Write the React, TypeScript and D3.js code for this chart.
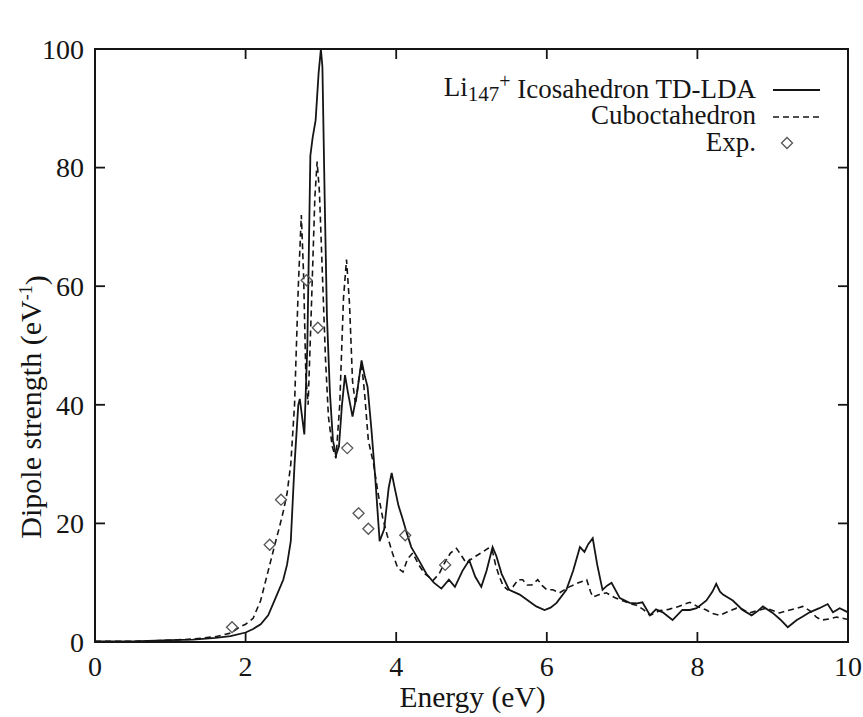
import React from "react";
import * as d3 from "d3";

const icoE = [0, 0.5, 1.0, 1.3, 1.6, 1.8, 2.0, 2.1, 2.2, 2.3, 2.4, 2.5, 2.55, 2.6, 2.65, 2.7, 2.72, 2.75, 2.78, 2.82, 2.86, 2.89, 2.93, 2.97, 3.0, 3.02, 3.05, 3.08, 3.12, 3.16, 3.2, 3.24, 3.28, 3.32, 3.36, 3.42, 3.48, 3.54, 3.58, 3.62, 3.67, 3.72, 3.78, 3.84, 3.9, 3.94, 3.98, 4.03, 4.08, 4.14, 4.2, 4.3, 4.4, 4.5, 4.6, 4.7, 4.78, 4.88, 4.97, 5.05, 5.13, 5.2, 5.28, 5.33, 5.4, 5.5, 5.64, 5.75, 5.86, 5.97, 6.05, 6.13, 6.26, 6.35, 6.44, 6.5, 6.55, 6.61, 6.67, 6.74, 6.8, 6.86, 6.97, 7.1, 7.2, 7.27, 7.37, 7.45, 7.54, 7.67, 7.8, 7.9, 7.99, 8.12, 8.2, 8.25, 8.3, 8.34, 8.47, 8.6, 8.72, 8.8, 8.87, 9.0, 9.1, 9.2, 9.32, 9.4, 9.49, 9.62, 9.73, 9.8, 9.89, 10];
const icoV = [0.1, 0.1, 0.3, 0.4, 0.7, 1.0, 1.6, 2.2, 3.0, 4.5, 7.5, 10.5, 13, 17, 30, 40, 41, 38, 35, 50, 82, 85, 88, 96, 100, 97, 75, 55, 42, 34, 31.5, 33, 40, 45, 42, 38, 42, 47.5, 45, 43, 36, 28, 17, 19, 26, 28.5, 26, 23, 21, 18.4, 16, 13.8, 11.5, 10, 9, 10.5, 9.3, 12, 13.8, 11, 9.3, 12, 16, 14.5, 11.5, 8.8, 8, 7, 6, 5.4, 5.8, 6.6, 8.8, 12, 16, 15.2, 16.5, 17.5, 13, 8.8, 9.5, 10, 7.4, 6.6, 6.5, 6.7, 4.5, 5.5, 5, 3.7, 5.4, 5.4, 5.7, 7, 8.5, 9.8, 8.5, 8, 7, 5.4, 4.5, 5.2, 6, 4.9, 3.8, 2.5, 3.7, 4.3, 5, 5.7, 6.4, 5, 5.7, 5];

const cubE = [0, 0.5, 1.0, 1.3, 1.6, 1.8, 1.92, 2.0, 2.1, 2.2, 2.3, 2.4, 2.45, 2.5, 2.55, 2.6, 2.65, 2.7, 2.74, 2.77, 2.8, 2.83, 2.87, 2.92, 2.95, 2.98, 3.02, 3.06, 3.1, 3.15, 3.2, 3.25, 3.3, 3.34, 3.38, 3.42, 3.46, 3.5, 3.54, 3.58, 3.63, 3.7, 3.76, 3.82, 3.88, 3.95, 4.02, 4.09, 4.15, 4.22, 4.3, 4.38, 4.49, 4.57, 4.65, 4.72, 4.8, 4.87, 4.93, 5.0, 5.06, 5.15, 5.22, 5.27, 5.32, 5.37, 5.42, 5.48, 5.55, 5.62, 5.68, 5.74, 5.8, 5.88, 5.94, 6.0, 6.08, 6.17, 6.3, 6.42, 6.53, 6.58, 6.61, 6.7, 6.79, 6.9, 7.0, 7.1, 7.19, 7.28, 7.37, 7.5, 7.62, 7.75, 7.9, 8.0, 8.12, 8.2, 8.3, 8.42, 8.52, 8.6, 8.69, 8.8, 8.92, 9.0, 9.09, 9.2, 9.32, 9.4, 9.5, 9.58, 9.65, 9.75, 9.85, 9.93, 10];
const cubV = [0.1, 0.1, 0.3, 0.5, 0.9, 1.5, 2.5, 3, 4, 7, 12, 17, 19.4, 22, 25, 30, 40, 60, 72, 62, 45, 40, 55, 75, 81, 76, 62, 48, 38, 33, 31, 40, 58, 64.5, 57, 44, 40, 44, 47, 42, 34, 30, 25, 21, 18, 15, 12.5, 11.8, 14, 15, 13, 11.5, 10.4, 11.5, 13.5, 15, 15.8, 14.5, 13.3, 14, 14.5, 15.2, 15.8, 15.8, 13, 11, 9.5, 8.8, 9.3, 10.5, 10.5, 9.6, 9.6, 10.5, 9.5, 8.8, 8.8, 8.3, 9.3, 10, 10.5, 8.5, 7.6, 8, 8.3, 7.5, 7, 6.5, 6.2, 5.5, 4.5, 5.3, 5.5, 6, 6.7, 6, 5.4, 4.8, 4.5, 5.2, 5.7, 5.5, 4.9, 5.3, 5.7, 5.3, 4.9, 5.3, 5.7, 6, 5.2, 4.2, 3.7, 3.9, 4.2, 4, 3.8];

const expE = [1.82, 2.32, 2.47, 2.81, 2.96, 3.35, 3.5, 3.63, 4.12, 4.65];
const expV = [2.5, 16.4, 24, 61, 53, 32.7, 21.7, 19.1, 18, 13];

const xTicks = [0, 2, 4, 6, 8, 10];
const yTicks = [0, 20, 40, 60, 80, 100];

const W = 863, H = 717;
const L = 95, R = 848, T = 49, B = 642;
const FONT = "'Liberation Serif', 'Times New Roman', serif";
const INK = "#151515";

export default function App() {
  const x = d3.scaleLinear().domain([0, 10]).range([L, R]);
  const y = d3.scaleLinear().domain([0, 100]).range([B, T]);
  const line = d3.line<[number, number]>().x(d => x(d[0])).y(d => y(d[1]));
  const ico = icoE.map((e, i) => [e, icoV[i]] as [number, number]);
  const cub = cubE.map((e, i) => [e, cubV[i]] as [number, number]);
  const diamond = (cx: number, cy: number, r = 5.5) =>
    `M${cx},${cy - r}L${cx + r},${cy}L${cx},${cy + r}L${cx - r},${cy}Z`;
  const tl = 10;
  return (
    <svg width={W} height={H} style={{ position: "absolute", left: 0, top: 0, background: "#fff" }}
      fontFamily={FONT}>
      <rect x={0} y={0} width={W} height={H} fill="#fff" />
      <defs>
        <clipPath id="pc"><rect x={L} y={T - 2} width={R - L} height={B - T + 2} /></clipPath>
      </defs>
      <g clipPath="url(#pc)">
        <path d={line(cub) || ""} fill="none" stroke={INK} strokeWidth={1.6} strokeDasharray="6,4" />
        <path d={line(ico) || ""} fill="none" stroke={INK} strokeWidth={1.8} />
      </g>
      {expE.map((e, i) => (
        <path key={i} d={diamond(x(e), y(expV[i]))} fill="none" stroke="#555" strokeWidth={1.3} />
      ))}
      <rect x={L} y={T} width={R - L} height={B - T} fill="none" stroke={INK} strokeWidth={2} />
      {xTicks.map(t => (
        <g key={"x" + t}>
          <line x1={x(t)} x2={x(t)} y1={B} y2={B - tl} stroke={INK} strokeWidth={1.8} />
          <line x1={x(t)} x2={x(t)} y1={T} y2={T + tl} stroke={INK} strokeWidth={1.8} />
          <text x={x(t)} y={B + 24} dy="0.35em" textAnchor="middle" fontSize={28} fill={INK}>{t}</text>
        </g>
      ))}
      {yTicks.map(t => (
        <g key={"y" + t}>
          <line x1={L} x2={L + tl} y1={y(t)} y2={y(t)} stroke={INK} strokeWidth={1.8} />
          <line x1={R} x2={R - tl} y1={y(t)} y2={y(t)} stroke={INK} strokeWidth={1.8} />
          <text x={84} y={y(t)} dy="0.35em" textAnchor="end" fontSize={28} fill={INK}>{t}</text>
        </g>
      ))}
      <text x={(L + R) / 2 + 1} y={697} dy="0.35em" textAnchor="middle" fontSize={29.5} fill={INK}>Energy (eV)</text>
      <text transform={`translate(30,407) rotate(-90)`} textAnchor="middle" dy="0.35em" fontSize={30} fill={INK}>
        Dipole strength (eV<tspan dy="-0.45em" fontSize={18}>-1</tspan><tspan dy="0.45em">)</tspan>
      </text>
      <text x={756} y={96} textAnchor="end" fontSize={27} fill={INK}>
        Li<tspan dy="0.22em" fontSize={21}>147</tspan><tspan dy="-0.65em" fontSize={20}>+</tspan><tspan dy="0.4em"> Icosahedron TD-LDA</tspan>
      </text>
      <line x1={773} x2={820} y1={90} y2={90} stroke={INK} strokeWidth={1.8} />
      <text x={756} y={124} textAnchor="end" fontSize={27} fill={INK}>Cuboctahedron</text>
      <line x1={773} x2={820} y1={117} y2={117} stroke={INK} strokeWidth={1.6} strokeDasharray="6,4" />
      <text x={756} y={151} textAnchor="end" fontSize={27} fill={INK}>Exp.</text>
      <path d={diamond(787, 143)} fill="none" stroke="#555" strokeWidth={1.3} />
    </svg>
  );
}
